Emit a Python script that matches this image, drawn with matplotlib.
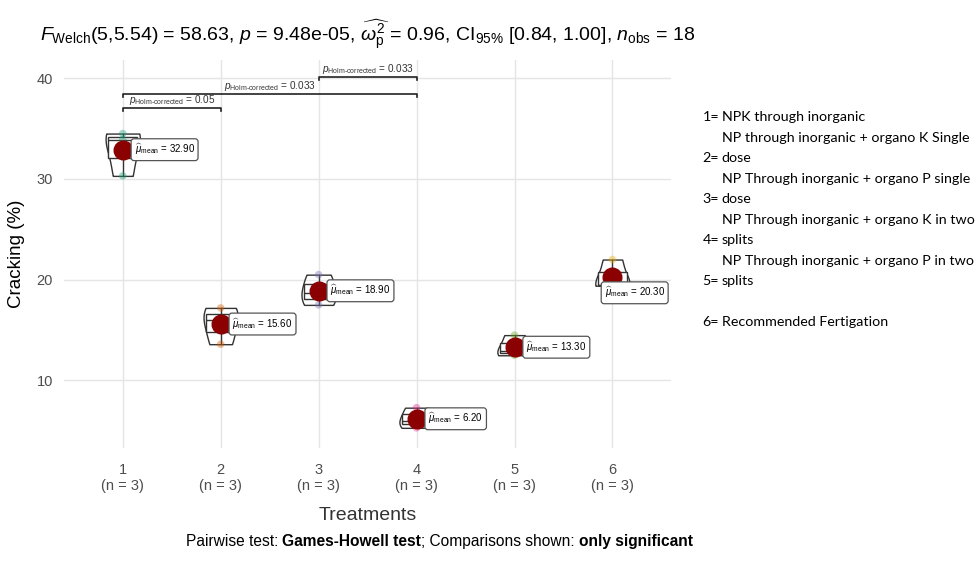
import numpy as np
import matplotlib
matplotlib.use("Agg")
import matplotlib.pyplot as plt

plt.rcParams["font.family"] = ["Liberation Sans", "DejaVu Sans"]
plt.rcParams["mathtext.fontset"] = "custom"
plt.rcParams["mathtext.rm"] = "Liberation Sans"
plt.rcParams["mathtext.it"] = "Liberation Sans:italic"
plt.rcParams["mathtext.bf"] = "Liberation Sans:bold"

# data
treatments = ["1", "2", "3", "4", "5", "6"]
n_obs = [3, 3, 3, 3, 3, 3]
obs = [
    [34.5, 33.9, 30.3],
    [17.2, 16.0, 13.6],
    [20.5, 18.7, 17.5],
    [7.3, 6.0, 5.3],
    [14.5, 12.9, 12.5],
    [22.0, 19.5, 19.4],
]
means = [32.90, 15.60, 18.90, 6.20, 13.30, 20.30]
point_colors = ["#1B9E77", "#D95F02", "#7570B3", "#E7298A", "#66A61E", "#E6AB02"]

# significant pairs (Games-Howell, Holm corrected)
pairs = [(1, 2), (1, 4), (3, 4)]
pair_p = ["0.05", "0.033", "0.033"]
pair_y = [37.0, 38.4, 40.1]

# treatment key on the right: (number part, description part)
legend_lines = [
    ("1=", "NPK through inorganic"),
    ("", "NP through inorganic + organo K Single"),
    ("2=", "dose"),
    ("", "NP Through inorganic + organo P single"),
    ("3=", "dose"),
    ("", "NP Through inorganic + organo K in two"),
    ("4=", "splits"),
    ("", "NP Through inorganic + organo P in two"),
    ("5=", "splits"),
    None,
    ("6=", "Recommended Fertigation"),
]

fig = plt.figure(figsize=(9.77, 5.66), dpi=100)
ax = fig.add_axes([0.0655, 0.2085, 0.6215, 0.6855])

x = np.arange(1, len(treatments) + 1)

# violins
vp = ax.violinplot(obs, positions=x, widths=0.35, showextrema=False)
for body in vp["bodies"]:
    body.set_alpha(None)
    body.set_facecolor((1, 1, 1, 0.2))
    body.set_edgecolor("#333333")
    body.set_linewidth(1.0)
    body.set_zorder(2)

# boxes
ax.boxplot(obs, positions=x, widths=0.3, patch_artist=True, showfliers=False,
           boxprops=dict(facecolor="white", edgecolor="#333333", linewidth=1.0),
           whiskerprops=dict(color="#333333", linewidth=1.0),
           capprops=dict(linewidth=0),
           medianprops=dict(color="#333333", linewidth=1.0),
           zorder=3)

# raw points
for xi, vals, c in zip(x, obs, point_colors):
    ax.scatter([xi] * len(vals), vals, s=30, color=c, alpha=0.4, zorder=4,
               edgecolors="none")

# means
ax.scatter(x, means, s=180, color="#8B0000", zorder=5)
label_offsets = [(0.12, 0), (0.12, 0), (0.12, 0), (0.12, 0), (0.12, 0), (-0.08, -1.6)]
for xi, m, (dx, dy) in zip(x, means, label_offsets):
    ax.text(xi + dx, m + dy, r"$\widehat{\mu}_{\rm mean}$ = %.2f" % m,
            fontsize=7, va="center", ha="left", zorder=6,
            bbox=dict(boxstyle="round,pad=0.35,rounding_size=0.3", fc="white",
                      ec="#555555", lw=0.9))

# significance brackets
for (a, b), p, yb in zip(pairs, pair_p, pair_y):
    ax.plot([a, a, b, b], [yb - 0.3, yb, yb, yb - 0.3], color="#222222",
            lw=1.2, zorder=3)
    ax.text((a + b) / 2, yb + 0.15, r"$p_{\rm Holm\text{-}corrected}$ = " + p,
            fontsize=7.2, ha="center", va="bottom", color="#333333")

ax.set_xlim(0.4, 6.6)
ax.set_ylim(3.3, 41.8)
ax.set_yticks([10, 20, 30, 40])
ax.set_xticks(x)
ax.set_xticklabels([f"{t}\n(n = {n})" for t, n in zip(treatments, n_obs)])
ax.tick_params(axis="x", length=0, labelsize=10.5, labelcolor="#4D4D4D", pad=11)
ax.tick_params(axis="y", length=0, labelsize=10.5, labelcolor="#4D4D4D", pad=8)
ax.grid(True, color="#E5E5E5", lw=1.0)
ax.set_axisbelow(True)
for s in ax.spines.values():
    s.set_visible(False)

ax.set_xlabel("Treatments", fontsize=14, color="#333333", labelpad=10)
ax.set_ylabel("Cracking (%)", fontsize=13.5, color="black", labelpad=8)

fig.text(0.041, 0.938,
         r"$F_{\rm Welch}$(5,5.54) = 58.63, $p$ = 9.48e-05, "
         r"$\widehat{\omega_{\rm p}^2}$ = 0.96, CI$_{\rm 95\%}$ [0.84, 1.00], "
         r"$n_{\rm obs}$ = 18",
         fontsize=14, ha="left", va="center")

# caption with bold parts
cap1 = fig.text(0.19, 0.035, "Pairwise test: ", fontsize=11.2, ha="left", va="baseline")
cap2 = ax.annotate("Games-Howell test", xy=(1, 0), xycoords=cap1, fontsize=11.2,
                   fontweight="bold", ha="left", va="bottom")
cap3 = ax.annotate("; Comparisons shown: ", xy=(1, 0), xycoords=cap2, fontsize=11.2,
                   ha="left", va="bottom")
ax.annotate("only significant", xy=(1, 0), xycoords=cap3, fontsize=11.2,
            fontweight="bold", ha="left", va="bottom")

# treatment descriptions
y0 = 0.793
step = 0.0362
for i, item in enumerate(legend_lines):
    if item is None:
        continue
    num, desc = item
    yy = y0 - i * step
    if num:
        fig.text(0.719, yy, num, fontsize=10.3, family=["Lato", "DejaVu Sans"],
                 ha="left", va="center")
        fig.text(0.7385, yy, desc, fontsize=10.3, family=["Lato", "DejaVu Sans"],
                 ha="left", va="center")
    else:
        fig.text(0.7395, yy, desc, fontsize=10.3, family=["Lato", "DejaVu Sans"],
                 ha="left", va="center")

fig.savefig("out.png", dpi=100)
